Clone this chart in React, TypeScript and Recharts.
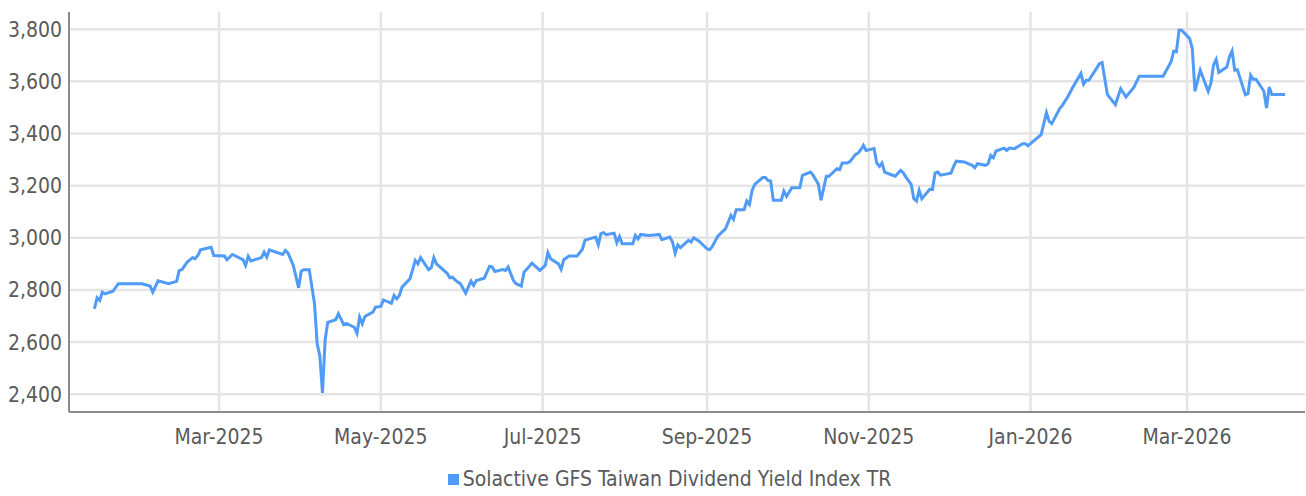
import { LineChart, Line, XAxis, YAxis, CartesianGrid, Legend } from 'recharts'

const SERIES_NAME = 'Solactive GFS Taiwan Dividend Yield Index TR'

const dates = [
  '2025-01-13', '2025-01-14', '2025-01-15', '2025-01-16', '2025-01-17', '2025-01-20', '2025-01-22', '2025-01-31',
  '2025-02-03', '2025-02-04', '2025-02-06', '2025-02-10', '2025-02-12', '2025-02-13', '2025-02-14', '2025-02-15',
  '2025-02-17', '2025-02-19', '2025-02-20', '2025-02-21', '2025-02-22', '2025-02-26', '2025-02-27',
  '2025-03-03', '2025-03-04', '2025-03-06', '2025-03-10', '2025-03-11', '2025-03-12', '2025-03-13', '2025-03-17',
  '2025-03-18', '2025-03-19', '2025-03-20', '2025-03-25', '2025-03-26', '2025-03-27', '2025-03-29', '2025-03-31',
  '2025-04-01', '2025-04-02', '2025-04-04', '2025-04-06', '2025-04-07', '2025-04-08', '2025-04-09', '2025-04-10',
  '2025-04-11', '2025-04-14', '2025-04-15', '2025-04-17', '2025-04-18', '2025-04-21', '2025-04-22', '2025-04-23',
  '2025-04-24', '2025-04-25', '2025-04-28', '2025-04-29',
  '2025-05-01', '2025-05-02', '2025-05-05', '2025-05-06', '2025-05-07', '2025-05-08', '2025-05-09', '2025-05-12',
  '2025-05-14', '2025-05-15', '2025-05-16', '2025-05-19', '2025-05-20', '2025-05-21', '2025-05-22', '2025-05-26',
  '2025-05-27', '2025-05-28', '2025-05-29', '2025-05-30', '2025-05-31',
  '2025-06-02', '2025-06-04', '2025-06-05', '2025-06-06', '2025-06-09', '2025-06-11', '2025-06-12', '2025-06-13',
  '2025-06-16', '2025-06-17', '2025-06-18', '2025-06-20', '2025-06-21', '2025-06-23', '2025-06-24', '2025-06-25',
  '2025-06-27', '2025-06-30',
  '2025-07-02', '2025-07-03', '2025-07-04', '2025-07-07', '2025-07-08', '2025-07-09', '2025-07-11', '2025-07-14',
  '2025-07-16', '2025-07-17', '2025-07-21', '2025-07-22', '2025-07-23', '2025-07-24', '2025-07-25', '2025-07-28',
  '2025-07-29', '2025-07-30', '2025-07-31',
  '2025-08-04', '2025-08-05', '2025-08-06', '2025-08-07', '2025-08-10', '2025-08-13', '2025-08-14', '2025-08-15',
  '2025-08-18', '2025-08-19', '2025-08-20', '2025-08-21', '2025-08-22', '2025-08-25', '2025-08-26', '2025-08-27',
  '2025-08-29',
  '2025-09-01', '2025-09-02', '2025-09-03', '2025-09-05', '2025-09-08', '2025-09-10', '2025-09-11', '2025-09-12',
  '2025-09-15', '2025-09-16', '2025-09-17', '2025-09-18', '2025-09-19', '2025-09-22', '2025-09-23', '2025-09-24',
  '2025-09-25', '2025-09-26', '2025-09-29', '2025-09-30',
  '2025-10-01', '2025-10-03', '2025-10-06', '2025-10-07', '2025-10-10', '2025-10-11', '2025-10-13', '2025-10-14',
  '2025-10-16', '2025-10-17', '2025-10-20', '2025-10-21', '2025-10-22', '2025-10-24', '2025-10-25', '2025-10-27',
  '2025-10-28', '2025-10-29', '2025-10-30', '2025-10-31',
  '2025-11-03', '2025-11-04', '2025-11-05', '2025-11-06', '2025-11-07', '2025-11-10', '2025-11-11', '2025-11-13',
  '2025-11-14', '2025-11-15', '2025-11-17', '2025-11-18', '2025-11-19', '2025-11-20', '2025-11-21', '2025-11-24',
  '2025-11-25', '2025-11-26', '2025-11-27', '2025-11-28',
  '2025-12-02', '2025-12-03', '2025-12-04', '2025-12-07', '2025-12-10', '2025-12-11', '2025-12-12', '2025-12-15',
  '2025-12-16', '2025-12-17', '2025-12-18', '2025-12-19', '2025-12-22', '2025-12-23', '2025-12-24', '2025-12-26',
  '2025-12-29', '2025-12-30', '2025-12-31',
  '2026-01-02', '2026-01-05', '2026-01-07', '2026-01-08', '2026-01-09', '2026-01-12', '2026-01-13', '2026-01-15',
  '2026-01-17', '2026-01-20', '2026-01-21', '2026-01-22', '2026-01-23', '2026-01-27', '2026-01-28', '2026-01-30',
  '2026-02-02', '2026-02-04', '2026-02-06', '2026-02-09', '2026-02-11', '2026-02-20', '2026-02-23', '2026-02-24',
  '2026-02-25', '2026-02-26', '2026-02-27',
  '2026-03-02', '2026-03-03', '2026-03-04', '2026-03-06', '2026-03-09', '2026-03-10', '2026-03-11', '2026-03-12',
  '2026-03-13', '2026-03-16', '2026-03-17', '2026-03-18', '2026-03-19', '2026-03-20', '2026-03-23', '2026-03-24',
  '2026-03-25', '2026-03-26', '2026-03-27', '2026-03-30', '2026-03-31',
  '2026-04-01', '2026-04-02', '2026-04-07',
]

const values = [
  2728, 2770, 2760, 2792, 2785, 2795, 2824, 2824,
  2815, 2792, 2835, 2824, 2830, 2833, 2875, 2878,
  2907, 2924, 2920, 2932, 2954, 2964, 2932,
  2930, 2916, 2936, 2916, 2894, 2929, 2911, 2924,
  2945, 2926, 2954, 2936, 2952, 2941, 2894, 2808,
  2872, 2878, 2878, 2747, 2593, 2548, 2405, 2609,
  2676, 2686, 2709, 2667, 2672, 2657, 2634, 2696,
  2670, 2698, 2715, 2734,
  2737, 2762, 2749, 2779, 2766, 2779, 2811, 2843,
  2913, 2900, 2924, 2878, 2885, 2924, 2900, 2864,
  2847, 2849, 2839, 2830, 2824,
  2788, 2834, 2817, 2836, 2845, 2891, 2888, 2871,
  2878, 2875, 2888, 2836, 2824, 2815, 2868, 2879,
  2903, 2875,
  2894, 2943, 2920, 2900, 2879, 2916, 2930, 2930,
  2956, 2991, 3003, 2973, 3016, 3020, 3012, 3018,
  2981, 3005, 2977,
  2977, 3009, 2996, 3013, 3009, 3012, 3013, 2993,
  3003, 2984, 2941, 2973, 2962, 2990, 2984, 3000,
  2987,
  2958, 2954, 2967, 3005, 3035, 3086, 3071, 3108,
  3108, 3141, 3128, 3182, 3205, 3231, 3231, 3220,
  3218, 3144, 3144, 3179,
  3159, 3192, 3192, 3240, 3252, 3240, 3205, 3144,
  3236, 3236, 3265, 3261, 3287, 3287, 3293, 3320,
  3325, 3338, 3355, 3335,
  3342, 3287, 3274, 3287, 3252, 3240, 3236, 3259,
  3250, 3233, 3205, 3150, 3141, 3182, 3150, 3186,
  3185, 3248, 3252, 3240,
  3248, 3274, 3294, 3291, 3278, 3269, 3284, 3278,
  3284, 3316, 3307, 3333, 3344, 3335, 3344, 3342,
  3361, 3361, 3353,
  3370, 3396, 3480, 3447, 3438, 3496, 3508, 3540,
  3578, 3630, 3589, 3604, 3604, 3668, 3672, 3549,
  3511, 3572, 3540, 3578, 3620, 3620, 3675, 3716,
  3713, 3796, 3796,
  3764, 3726, 3562, 3643, 3562, 3592, 3662, 3684,
  3634, 3655, 3694, 3716, 3643, 3645, 3549, 3553,
  3624, 3608, 3608, 3562, 3498,
  3578, 3550, 3550,
]

const tickDates = ['2025-03-01', '2025-05-01', '2025-07-01', '2025-09-01', '2025-11-01', '2026-01-01', '2026-03-01']
const tickLabels = ['Mar-2025', 'May-2025', 'Jul-2025', 'Sep-2025', 'Nov-2025', 'Jan-2026', 'Mar-2026']
const yTicks = [2400, 2600, 2800, 3000, 3200, 3400, 3600, 3800]

const data = dates.map((d, i) => ({ t: Date.parse(d), value: values[i] }))
const xTicks = tickDates.map((d) => Date.parse(d))
const X_MIN = Date.parse('2025-01-03T10:00:00Z')
const X_MAX = Date.parse('2026-04-14T12:00:00Z')

const FONT = "'Liberation Sans Narrow', 'DejaVu Sans Condensed', 'Roboto', sans-serif"
const FONT_SIZE = 21
const LINE_COLOR = '#4f9bf7'
const TEXT_COLOR = '#5a5a5a'

function formatTick(value: number): string {
  const i = xTicks.indexOf(value)
  return i >= 0 ? tickLabels[i] : ''
}

function LegendContent() {
  return (
    <div style={{ display: 'flex', alignItems: 'center', justifyContent: 'center', height: 34, paddingLeft: 34, fontFamily: FONT, fontSize: FONT_SIZE, color: TEXT_COLOR }}>
      <span style={{ display: 'inline-block', width: 11, height: 11, background: LINE_COLOR, marginRight: 4 }} />
      <span>{SERIES_NAME}</span>
    </div>
  )
}

export default function App() {
  return (
    <div style={{ position: 'absolute', left: 0, top: 0, width: 1306, height: 496, background: '#fff' }}>
      <LineChart width={1306} height={496} data={data} margin={{ top: 12, right: 1, bottom: 0, left: 0 }}>
        <CartesianGrid stroke="#e5e5e5" strokeWidth={2.5} syncWithTicks />
        <XAxis
          dataKey="t"
          type="number"
          scale="time"
          domain={[X_MIN, X_MAX]}
          ticks={xTicks}
          tickFormatter={formatTick}
          tick={{ fill: TEXT_COLOR, fontSize: FONT_SIZE, fontFamily: FONT }}
          tickLine={false}
          tickSize={0}
          tickMargin={17}
          axisLine={{ stroke: '#8a8a8a', strokeWidth: 2 }}
          height={50}
          allowDataOverflow
        />
        <YAxis
          type="number"
          domain={[2332, 3866]}
          ticks={yTicks}
          tickFormatter={(v: number) => v.toLocaleString('en-US')}
          tick={{ fill: TEXT_COLOR, fontSize: FONT_SIZE, fontFamily: FONT }}
          tickLine={false}
          tickSize={0}
          tickMargin={7}
          axisLine={{ stroke: '#8a8a8a', strokeWidth: 2 }}
          width={69}
          allowDataOverflow
        />
        <Legend verticalAlign="bottom" content={<LegendContent />} />
        <Line
          type="linear"
          dataKey="value"
          name={SERIES_NAME}
          stroke={LINE_COLOR}
          strokeWidth={3}
          dot={false}
          activeDot={false}
          isAnimationActive={false}
        />
      </LineChart>
    </div>
  )
}
